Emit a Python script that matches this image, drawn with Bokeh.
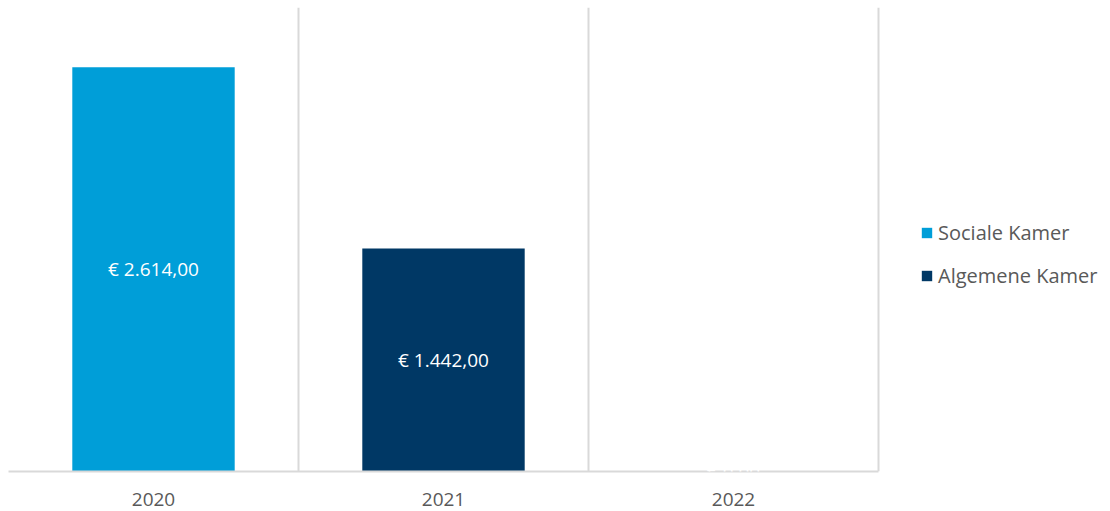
from bokeh.plotting import figure
from bokeh.models import ColumnDataSource, FixedTicker, Range1d, Legend, LegendItem, LabelSet
from bokeh.core.properties import value
from bokeh.embed import file_html
from bokeh.resources import INLINE

years = ["2020", "2021", "2022"]
sociale_kamer = [2614.0, 0.0, 0.0]
algemene_kamer = [0.0, 1442.0, 0.0]

def eur(v):
    s = f"{v:,.2f}"
    s = s.replace(",", "X").replace(".", ",").replace("X", ".")
    return "€ " + s

n = len(years)
x = [i + 0.5 for i in range(n)]
totals = [a + b for a, b in zip(sociale_kamer, algemene_kamer)]
src = ColumnDataSource(dict(
    x=x, sk=sociale_kamer, ak=algemene_kamer,
    mid=[t / 2 for t in totals],
    lbl=[eur(t) for t in totals],
))

W, H = 1108, 511
left, top, bottom = 8, 7, 40
frame_w = W - left
# the category area occupies 870 px of the frame; the rest holds the legend
p = figure(width=W, height=H, output_backend="svg", toolbar_location=None,
           x_range=Range1d(0, n * frame_w / 870), y_range=Range1d(0, 3000),
           min_border_left=left, min_border_right=0, min_border_top=top,
           min_border_bottom=bottom)

r = p.vbar_stack(["sk", "ak"], x="x", width=0.56, source=src,
                 color=["#009ED8", "#003865"], line_color=None)

labels = LabelSet(x="x", y="mid", text="lbl", source=src, text_color="white",
                  text_font=value("Open Sans"), text_font_size="19px",
                  text_align="center", text_baseline="middle")
p.add_layout(labels)

p.xaxis.ticker = FixedTicker(ticks=x)
p.xaxis.bounds = (0, n)
p.xaxis.major_label_overrides = {xi: y for xi, y in zip(x, years)}
p.xaxis.major_tick_line_color = None
p.xaxis.minor_tick_line_color = None
p.xaxis.axis_line_color = "#d9d9d9"
p.xaxis.axis_line_width = 2
p.xaxis.major_label_text_font = "Open Sans"
p.xaxis.major_label_text_font_size = "19px"
p.xaxis.major_label_text_color = "#595959"
p.xaxis.major_label_standoff = 15

p.yaxis.visible = False
p.ygrid.grid_line_color = None
p.xgrid.ticker = FixedTicker(ticks=list(range(n + 1)))
p.xgrid.grid_line_color = "#d9d9d9"
p.xgrid.grid_line_width = 2
p.outline_line_color = None

legend = Legend(items=[LegendItem(label="Sociale Kamer", renderers=[r[0]]),
                       LegendItem(label="Algemene Kamer", renderers=[r[1]])],
                location=(912, 182), label_text_font="Open Sans",
                label_text_font_size="20px", label_text_color="#595959",
                glyph_width=13, glyph_height=13, label_height=26, spacing=16,
                label_standoff=5, border_line_color=None, background_fill_alpha=0,
                padding=0, margin=0)
p.add_layout(legend, "center")

open("out.html", "w").write(file_html(p, INLINE))
